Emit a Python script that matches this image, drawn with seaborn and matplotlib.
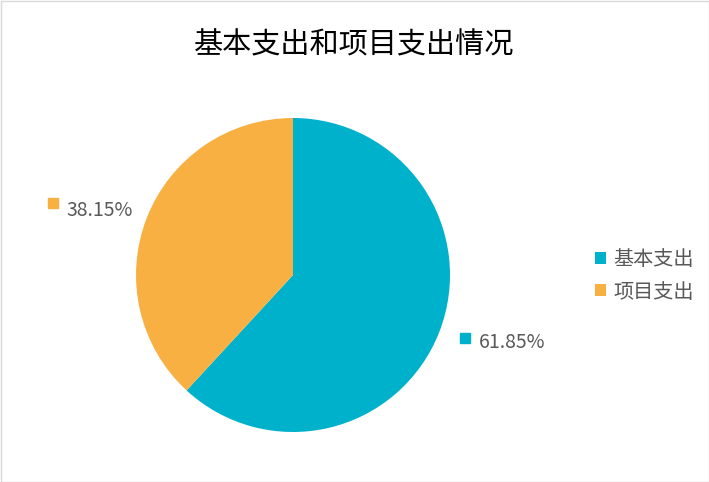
import numpy as np
import matplotlib
matplotlib.use("Agg")
import matplotlib.pyplot as plt
import matplotlib.transforms as mtrans
import seaborn as sns
from matplotlib.patches import Patch, Rectangle

categories = ["基本支出", "项目支出"]
values = [61.85, 38.15]
value_labels = ["61.85%", "38.15%"]
title = "基本支出和项目支出情况"

sns.set_theme(style="white")
plt.rcParams['font.family'] = ['Noto Sans CJK SC', 'DejaVu Sans']

colors = sns.color_palette(["#00B1CB", "#F9B043"])

W, H = 709, 482
fig = plt.figure(figsize=(W / 100, H / 100), dpi=100)
fig.patch.set_facecolor("white")
fig.patches.append(Rectangle((0.5 / W, 0.5 / H), 1 - 1.0 / W, 1 - 1.0 / H,
                             transform=fig.transFigure, fill=False,
                             edgecolor="#D9D9D9", linewidth=1))

cx, cy, r = 293, 275, 157
ax = fig.add_axes([(cx - r) / W, (H - cy - r) / H, 2 * r / W, 2 * r / H])
wedges, _ = ax.pie(values, colors=colors, startangle=90, counterclock=False,
                   radius=1, wedgeprops=dict(linewidth=0))
ax.set_xlim(-1, 1)
ax.set_ylim(-1, 1)
ax.set_aspect("equal")
ax.axis("off")

fig.text(0.5, 1 - 45 / H, title, ha="center", va="center", fontsize=21, color="#000000")

# data labels outside wedges
fig.canvas.draw()
renderer = fig.canvas.get_renderer()
for w, lab, col in zip(wedges, value_labels, colors):
    ang = np.deg2rad((w.theta1 + w.theta2) / 2)
    x, y = 1.13 * np.cos(ang), 1.16 * np.sin(ang)
    if x >= 0:
        ax.plot([x], [y], marker="s", markersize=7, color=col, linestyle="none",
                transform=ax.transData + mtrans.ScaledTranslation(5 / 72, 2 / 72, fig.dpi_scale_trans),
                clip_on=False)
        ax.annotate(lab, xy=(x, y), xytext=(15, -1), textcoords="offset points",
                    ha="left", va="center", fontsize=14, color="#595959",
                    annotation_clip=False)
    else:
        t = ax.annotate(lab, xy=(x, y), xytext=(4, -1), textcoords="offset points",
                        ha="right", va="center", fontsize=14, color="#595959",
                        annotation_clip=False)
        fig.canvas.draw()
        wpx = t.get_window_extent(renderer).width * 72 / fig.dpi
        ax.plot([x], [y], marker="s", markersize=7, color=col, linestyle="none",
                transform=ax.transData + mtrans.ScaledTranslation(-(wpx + 6) / 72, 4 / 72, fig.dpi_scale_trans),
                clip_on=False)

handles = [Patch(facecolor=c, edgecolor="none") for c in colors]
fig.legend(handles, categories, loc="center left", bbox_to_anchor=(577 / W, 1 - 276 / H),
           frameon=False, fontsize=14.5, handlelength=0.55, handleheight=0.55,
           handletextpad=0.35, labelspacing=0.55, labelcolor="#595959")

fig.savefig("out.png", dpi=100)
